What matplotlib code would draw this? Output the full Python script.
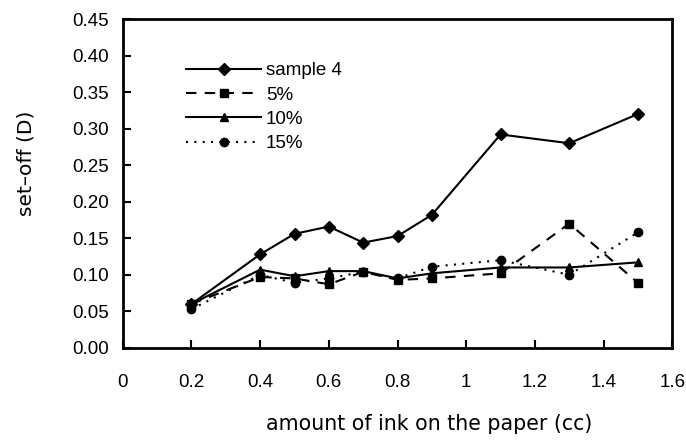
import matplotlib
matplotlib.use("Agg")
import matplotlib.pyplot as plt

plt.rcParams["font.family"] = ["Liberation Sans", "DejaVu Sans"]

ink = [0.2, 0.4, 0.5, 0.6, 0.7, 0.8, 0.9, 1.1, 1.3, 1.5]
sample4 = [0.060, 0.128, 0.156, 0.166, 0.144, 0.153, 0.182, 0.292, 0.280, 0.320]
pct5 = [0.060, 0.097, 0.095, 0.087, 0.104, 0.093, 0.095, 0.102, 0.170, 0.089]
pct10 = [0.060, 0.107, 0.098, 0.105, 0.105, 0.095, 0.102, 0.110, 0.110, 0.117]
pct15 = [0.053, 0.100, 0.089, 0.095, 0.104, 0.095, 0.111, 0.120, 0.100, 0.158]

series = [
    ("sample 4", sample4, "-", "D"),
    ("5%", pct5, (0, (5, 4)), "s"),
    ("10%", pct10, "-", "^"),
    ("15%", pct15, (0, (1, 3)), "o"),
]

fig = plt.figure(figsize=(6.86, 4.42), dpi=100)
ax = fig.add_axes([0.179, 0.213, 0.801, 0.744])

for label, vals, ls, mk in series:
    ax.plot(ink, vals, color="black", linestyle=ls, linewidth=1.5,
            marker=mk, markersize=6, label=label)

ax.set_xlim(0, 1.6)
ax.set_ylim(0, 0.45)
ax.set_xticks([0, 0.2, 0.4, 0.6, 0.8, 1.0, 1.2, 1.4, 1.6])
ax.set_xticklabels(["0", "0.2", "0.4", "0.6", "0.8", "1", "1.2", "1.4", "1.6"])
ax.set_yticks([i * 0.05 for i in range(10)])
ax.set_yticklabels([f"{i * 0.05:.2f}" for i in range(10)])
ax.tick_params(axis="both", direction="in", length=6, width=1.5, labelsize=13.5)
ax.tick_params(axis="x", pad=19)
ax.tick_params(axis="y", pad=10)
for sp in ax.spines.values():
    sp.set_linewidth(2)

ax.set_xlabel("amount of ink on the paper (cc)", fontsize=14.8,
              family="DejaVu Sans")
ax.xaxis.set_label_coords(0.557, -0.2)
ax.set_ylabel("set\u2013off (D)", fontsize=14.5, family="DejaVu Sans")
ax.yaxis.set_label_coords(-0.158, 0.56)

ax.legend(loc="upper left", bbox_to_anchor=(0.085, 0.92), frameon=False,
          fontsize=13.5, handlelength=4.0, handletextpad=0.25, labelspacing=0.38)

fig.savefig("out.png", dpi=100)
